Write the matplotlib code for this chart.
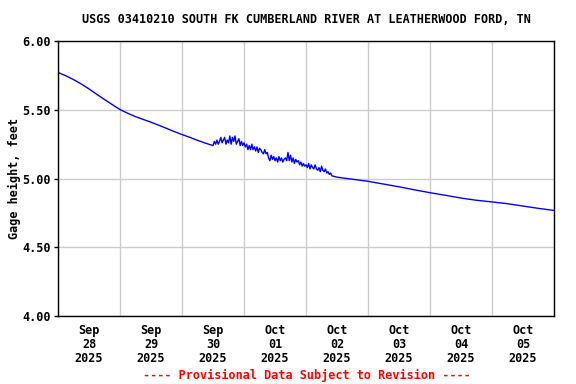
import numpy as np
import pandas as pd
import matplotlib
matplotlib.use("Agg")
import matplotlib.pyplot as plt
import matplotlib.dates as mdates

# gage height readings, hours after 2025-09-28 00:00
hours_a = np.arange(0, 61, 3)
gage_a = [5.772, 5.748, 5.72, 5.688, 5.652, 5.613, 5.575, 5.538, 5.502,
          5.475, 5.45, 5.43, 5.41, 5.388, 5.365, 5.342, 5.32, 5.30,
          5.278, 5.258, 5.24]

# noisy stretch, half-hourly
hours_b = np.arange(60.5, 106.1, 0.5)
gage_b = [5.27, 5.25, 5.28, 5.25, 5.27, 5.30, 5.26, 5.28,
          5.30, 5.25, 5.28, 5.26, 5.31, 5.25, 5.30, 5.27,
          5.31, 5.25, 5.27, 5.29, 5.24, 5.27, 5.24, 5.26,
          5.23, 5.25, 5.21, 5.24, 5.21, 5.25, 5.21, 5.23,
          5.20, 5.23, 5.19, 5.22, 5.21, 5.19, 5.18, 5.21,
          5.18, 5.19, 5.15, 5.13, 5.17, 5.14, 5.16, 5.13,
          5.15, 5.12, 5.16, 5.13, 5.15, 5.12, 5.14, 5.15,
          5.13, 5.19, 5.13, 5.17, 5.12, 5.15, 5.11, 5.14,
          5.12, 5.13, 5.10, 5.12, 5.09, 5.11, 5.09, 5.10,
          5.08, 5.11, 5.07, 5.10, 5.08, 5.07, 5.10, 5.07,
          5.06, 5.08, 5.05, 5.09, 5.06, 5.05, 5.07, 5.04,
          5.05, 5.03, 5.04, 5.02]

hours_c = np.arange(108, 193, 6)
gage_c = [5.01, 4.995, 4.98, 4.96, 4.94, 4.918, 4.897, 4.878, 4.858,
          4.842, 4.83, 4.817, 4.80, 4.783, 4.768]

y_ticks = [4.00, 4.50, 5.00, 5.50, 6.00]

hours = np.concatenate([hours_a, hours_b, hours_c])
gage = np.concatenate([gage_a, gage_b, gage_c])
start = pd.Timestamp("2025-09-28 00:00")
times = start + pd.to_timedelta(hours, unit="h")

font = "DejaVu Sans Mono"
fig = plt.figure(figsize=(5.76, 3.84), dpi=100)
ax = fig.add_axes([0.1007, 0.177, 0.8613, 0.716])

ax.plot(times, gage, color="#0000ff", linewidth=1.0)

ax.set_xlim(start, start + pd.Timedelta(days=8))
ax.set_ylim(4.0, 6.0)
ax.set_yticks(y_ticks)
ax.set_yticklabels([f"{v:.2f}" for v in y_ticks], family=font,
                   fontweight="bold", fontsize=8.5)

ax.xaxis.set_major_locator(mdates.DayLocator())
ax.xaxis.set_major_formatter(plt.NullFormatter())
ax.xaxis.set_minor_locator(mdates.HourLocator(byhour=12))
ax.xaxis.set_minor_formatter(mdates.DateFormatter("%b\n%d\n%Y"))
ax.tick_params(axis="x", which="both", length=0, pad=6)
ax.tick_params(axis="y", length=3, width=1, pad=2)
for lbl in ax.get_xticklabels(minor=True):
    lbl.set_family(font)
    lbl.set_fontweight("bold")
    lbl.set_fontsize(8.5)
    lbl.set_linespacing(1.1)

ax.grid(True, which="major", color="#cccccc", linewidth=1)
ax.set_axisbelow(True)
for sp in ax.spines.values():
    sp.set_linewidth(1)
    sp.set_color("black")

ax.set_ylabel("Gage height, feet", family=font, fontweight="bold",
              fontsize=8.5, labelpad=1)
fig.text(0.532, 0.95, "USGS 03410210 SOUTH FK CUMBERLAND RIVER AT LEATHERWOOD FORD, TN",
         ha="center", va="center", family=font, fontweight="bold", fontsize=8.5)
fig.text(0.532, 0.023, "---- Provisional Data Subject to Revision ----",
         ha="center", va="center", family=font, fontweight="bold",
         fontsize=8.5, color="red")

fig.savefig("out.png", dpi=100)
